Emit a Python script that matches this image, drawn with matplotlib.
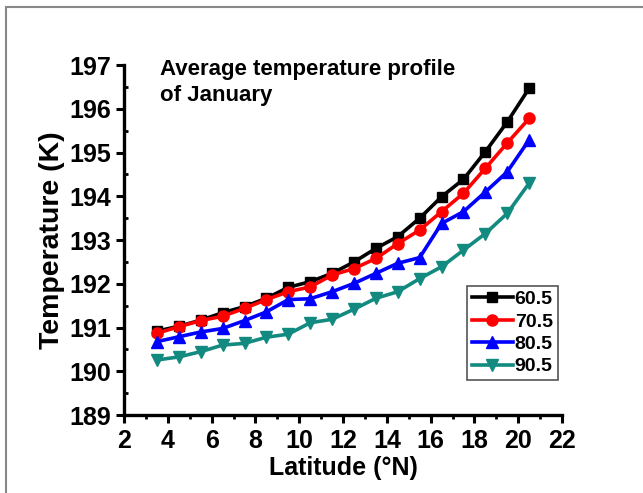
import matplotlib
matplotlib.use("Agg")
import matplotlib.pyplot as plt
from matplotlib.ticker import MultipleLocator
from matplotlib.patches import Rectangle

plt.rcParams['font.family'] = ['Liberation Sans', 'DejaVu Sans']
plt.rcParams['font.weight'] = 'bold'

# latitude (deg N)
lat = [3.5, 4.5, 5.5, 6.5, 7.5, 8.5, 9.5, 10.5, 11.5, 12.5,
       13.5, 14.5, 15.5, 16.5, 17.5, 18.5, 19.5, 20.5]

t_605 = [190.92, 191.03, 191.17, 191.34, 191.48, 191.67, 191.92, 192.05, 192.24,
         192.50, 192.81, 193.08, 193.50, 193.99, 194.39, 195.02, 195.70, 196.47]
t_705 = [190.87, 191.02, 191.16, 191.26, 191.44, 191.64, 191.82, 191.93, 192.20,
         192.35, 192.58, 192.92, 193.23, 193.65, 194.07, 194.64, 195.22, 195.78]
t_805 = [190.68, 190.79, 190.90, 190.98, 191.16, 191.36, 191.64, 191.66, 191.82,
         192.01, 192.24, 192.47, 192.60, 193.38, 193.65, 194.10, 194.56, 195.29]
t_905 = [190.26, 190.33, 190.45, 190.60, 190.64, 190.78, 190.85, 191.11, 191.19,
         191.42, 191.67, 191.82, 192.12, 192.39, 192.77, 193.15, 193.61, 194.30]

labels = ['60.5', '70.5', '80.5', '90.5']

fig = plt.figure(figsize=(6.43, 4.93), dpi=100)
ax = fig.add_axes([0.193, 0.158, 0.681, 0.710])

# grey frame around the figure (only top and left visible)
fig.patches.append(Rectangle((6/643, -0.2), 1.5, 1.2 - 7/493, transform=fig.transFigure,
                             fill=False, edgecolor='#888888', lw=1.5))

ax.plot(lat, t_605, '-s', color='black', lw=2.6, ms=7, label=labels[0])
ax.plot(lat, t_705, '-o', color='red', lw=2.6, ms=8, label=labels[1])
ax.plot(lat, t_805, '-^', color='blue', lw=2.6, ms=8, label=labels[2])
ax.plot(lat, t_905, '-v', color='#138a80', lw=2.6, ms=9, label=labels[3])

ax.set_xlim(2, 22)
ax.set_ylim(189, 197)
ax.xaxis.set_major_locator(MultipleLocator(2))
ax.xaxis.set_minor_locator(MultipleLocator(1))
ax.yaxis.set_major_locator(MultipleLocator(1))
ax.yaxis.set_minor_locator(MultipleLocator(0.5))

for s in ['top', 'right']:
    ax.spines[s].set_visible(False)
for s in ['left', 'bottom']:
    ax.spines[s].set_linewidth(2.4)

ax.tick_params(which='major', direction='out', length=6, width=2.2, labelsize=18)
ax.tick_params(axis='x', which='minor', direction='out', length=3, width=2)
ax.tick_params(axis='y', which='minor', direction='in', length=3, width=2)
ax.tick_params(axis='x', pad=4)

ax.set_xlabel('Latitude (°N)', fontsize=18, fontweight='bold', labelpad=2)
ax.set_ylabel('Temperature (K)', fontsize=20.5, fontweight='bold', labelpad=3)

ax.text(3.65, 197.15, 'Average temperature profile\nof January', fontsize=16,
        fontweight='bold', va='top', ha='left', linespacing=1.35, clip_on=False)

leg = ax.legend(loc='upper right', bbox_to_anchor=(0.99, 0.37), fontsize=14,
                handlelength=2.1, handletextpad=0.1, labelspacing=0.25,
                borderpad=0.25, borderaxespad=0, fancybox=False, framealpha=1)
leg.get_frame().set_edgecolor('#555555')
leg.get_frame().set_linewidth(1.2)
for t in leg.get_texts():
    t.set_fontweight('bold')

fig.savefig('out.png', dpi=100)
